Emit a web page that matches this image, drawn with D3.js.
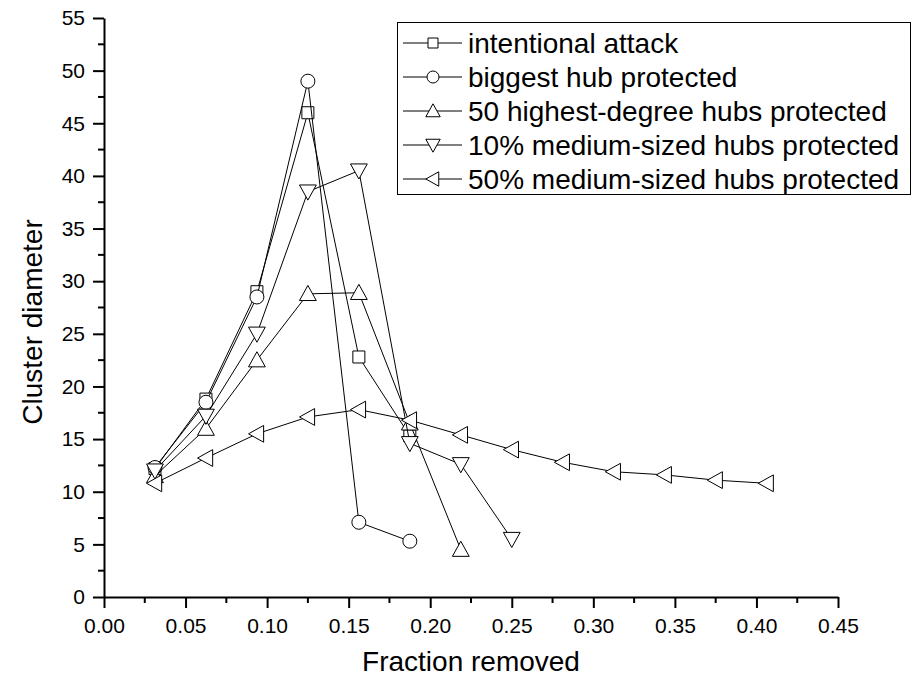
<!DOCTYPE html>
<html>
<head>
<meta charset="utf-8">
<script src="https://cdn.jsdelivr.net/npm/d3@7"></script>
<style>
  body { margin: 0; background: #fff; }
  text { font-family: "Liberation Sans", Arial, sans-serif; }
</style>
</head>
<body>
<script>
const w = 923;
const h = 682;

const fractions = [0.03125, 0.0625, 0.09375, 0.125, 0.15625, 0.1875, 0.21875,
                   0.25, 0.28125, 0.3125, 0.34375, 0.375, 0.40625];

const intentional = [12.2, 18.8, 29, 46, 22.8, 15.3];
const biggestHub = [12.3, 18.5, 28.5, 49, 7.1, 5.3];
const hubs50 = [11.5, 16, 22.5, 28.8, 28.9, 16.5, 4.5];
const medium10 = [12, 17.2, 25, 38.5, 40.5, 14.6, 12.6, 5.5];
const medium50 = [10.8, 13.2, 15.5, 17.1, 17.8, 16.8, 15.4, 14, 12.8, 11.9, 11.6, 11.1, 10.8];

const seriesNames = ["intentional attack", "biggest hub protected",
  "50 highest-degree hubs protected", "10% medium-sized hubs protected",
  "50% medium-sized hubs protected"];
const seriesValues = [intentional, biggestHub, hubs50, medium10, medium50];
const seriesSymbols = ["square", "circle", "up", "down", "left"];

const xTicks = [0, 0.05, 0.1, 0.15, 0.2, 0.25, 0.3, 0.35, 0.4, 0.45];
const yTicks = [0, 5, 10, 15, 20, 25, 30, 35, 40, 45, 50, 55];

const svg = d3.select("body")
    .append("svg")
    .attr("width", w)
    .attr("height", h)

const xScale = d3.scaleLinear()
  .domain([0, 0.45])
  .range([104, 838])

const yScale = d3.scaleLinear()
  .domain([0, 55])
  .range([597, 18])

// marker path around (0,0)
function marker(sym, s) {
  if (sym == "square") return `M${-s},${-s}H${s}V${s}H${-s}Z`
  if (sym == "circle") return `M${-s},0A${s},${s} 0 1,0 ${s},0A${s},${s} 0 1,0 ${-s},0Z`
  const a = s * 1.2
  if (sym == "up") return `M0,${-a}L${a},${a * 0.8}L${-a},${a * 0.8}Z`
  if (sym == "down") return `M0,${a}L${a},${-a * 0.8}L${-a},${-a * 0.8}Z`
  if (sym == "left") return `M${-a},0L${a * 0.8},${-a}L${a * 0.8},${a}Z`
}

// minor ticks
const minorX = d3.range(0.025, 0.45, 0.05)
const minorY = d3.range(2.5, 55, 5)

// Bottom axis
const xAxis = svg.append("g")
  .attr("transform", "translate(0,597)")
  .call(d3.axisBottom(xScale).tickValues(xTicks).tickFormat(d3.format(".2f"))
    .tickSizeInner(11).tickSizeOuter(0).tickPadding(10))
xAxis.selectAll("text").style("font-size", "21px").attr("fill", "#000")
xAxis.select(".domain").attr("stroke-width", 2)
xAxis.selectAll(".tick line").attr("stroke-width", 2)
xAxis.selectAll(".minor").data(minorX).enter().append("line")
  .attr("x1", d => xScale(d)).attr("x2", d => xScale(d))
  .attr("y1", 0).attr("y2", 6)
  .attr("stroke", "#000").attr("stroke-width", 2)

// Left axis
const yAxis = svg.append("g")
  .attr("transform", "translate(104,0)")
  .call(d3.axisLeft(yScale).tickValues(yTicks)
    .tickSizeInner(11).tickSizeOuter(0).tickPadding(8))
yAxis.selectAll("text").style("font-size", "21px").attr("fill", "#000")
yAxis.select(".domain").attr("stroke-width", 2)
yAxis.selectAll(".tick line").attr("stroke-width", 2)
yAxis.selectAll(".minor").data(minorY).enter().append("line")
  .attr("y1", d => yScale(d)).attr("y2", d => yScale(d))
  .attr("x1", 0).attr("x2", -6)
  .attr("stroke", "#000").attr("stroke-width", 2)

// Axis titles
svg.append("text")
  .attr("x", 471)
  .attr("y", 671)
  .attr("text-anchor", "middle")
  .style("font-size", "28px")
  .text("Fraction removed")

svg.append("text")
  .attr("transform", "translate(42,322) rotate(-90)")
  .attr("text-anchor", "middle")
  .style("font-size", "28px")
  .text("Cluster diameter")

// Series
const line = d3.line()
  .x((d, i) => xScale(fractions[i]))
  .y(d => yScale(d))

seriesValues.forEach((vals, k) => {
  svg.append("path")
    .attr("d", line(vals))
    .attr("fill", "none")
    .attr("stroke", "#000")
    .attr("stroke-width", 1)

  svg.selectAll(".m" + k)
    .data(vals)
    .enter()
    .append("path")
      .attr("class", "m" + k)
      .attr("transform", (d, i) => `translate(${xScale(fractions[i])},${yScale(d)})`)
      .attr("d", marker(seriesSymbols[k], seriesSymbols[k] == "square" ? 6 : 7))
      .attr("fill", "#fff")
      .attr("stroke", "#000")
      .attr("stroke-width", 1)
})

// Legend
const legend = svg.append("g")
legend.append("rect")
  .attr("x", 397.5)
  .attr("y", 22.5)
  .attr("width", 513)
  .attr("height", 172)
  .attr("fill", "#fff")
  .attr("stroke", "#000")
  .attr("stroke-width", 1)

seriesNames.forEach((name, k) => {
  const ly = 43 + k * 34
  legend.append("line")
    .attr("x1", 403).attr("x2", 462)
    .attr("y1", ly).attr("y2", ly)
    .attr("stroke", "#000")
  legend.append("path")
    .attr("transform", `translate(433,${ly})`)
    .attr("d", marker(seriesSymbols[k], seriesSymbols[k] == "square" ? 5 : 6))
    .attr("fill", "#fff")
    .attr("stroke", "#000")
  legend.append("text")
    .attr("x", 468)
    .attr("y", ly + 10)
    .style("font-size", "28px")
    .text(name)
})
</script>
</body>
</html>
